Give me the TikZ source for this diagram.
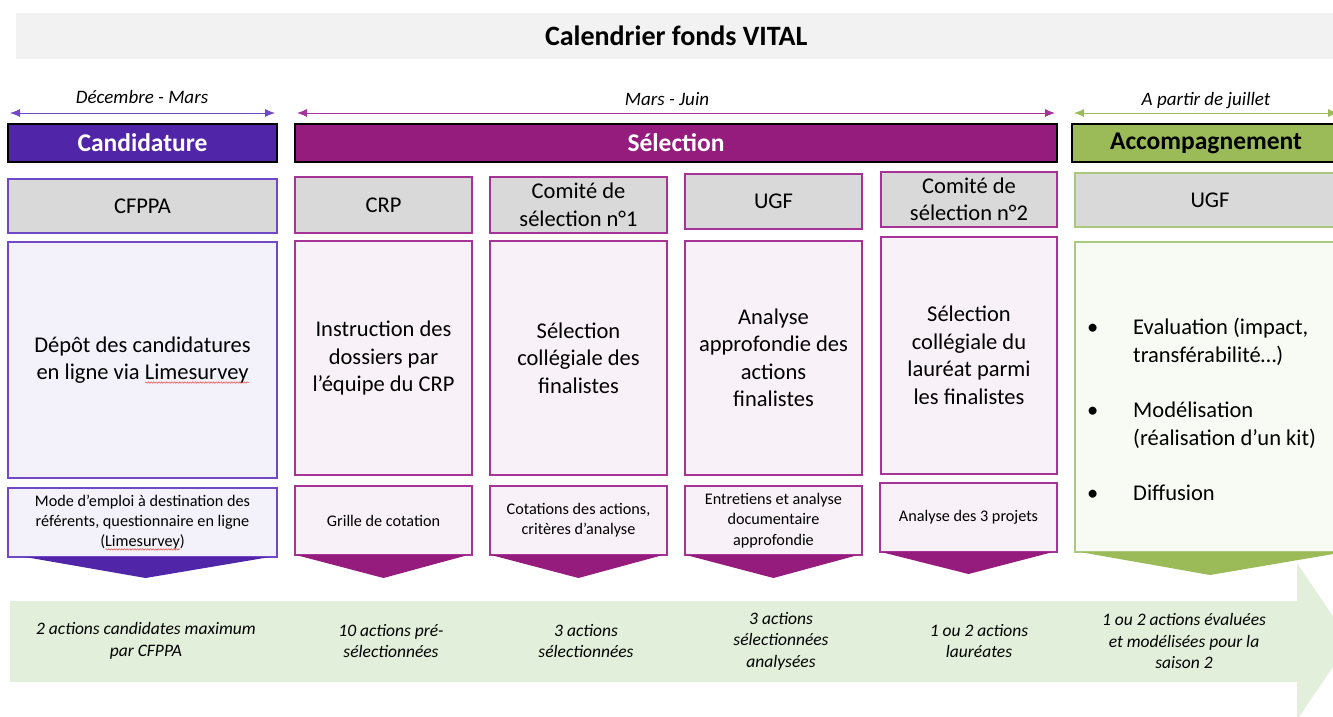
\documentclass[tikz,border=0pt]{standalone}
\usepackage{fontspec}
\setmainfont{Carlito}
\usetikzlibrary{arrows.meta,decorations.pathmorphing}

\definecolor{titlegray}{RGB}{242,242,242}
\definecolor{boxgray}{RGB}{217,217,217}
\definecolor{candpurple}{RGB}{81,37,168}
\definecolor{candline}{RGB}{112,72,200}
\definecolor{candfill}{RGB}{243,242,250}
\definecolor{selmagenta}{RGB}{149,27,125}
\definecolor{selline}{RGB}{165,52,150}
\definecolor{selfill}{RGB}{249,241,248}
\definecolor{accgreen}{RGB}{155,187,89}
\definecolor{accline}{RGB}{169,201,126}
\definecolor{accfill}{RGB}{248,250,244}
\definecolor{bandgreen}{RGB}{226,239,218}
\definecolor{wavered}{RGB}{235,90,90}

% fonts
\newcommand{\titlefont}{\fontsize{28}{34}\selectfont\bfseries}
\newcommand{\phasefont}{\fontsize{25.5}{30}\selectfont\bfseries}
\newcommand{\periodfont}{\fontsize{19}{22}\selectfont\itshape}
\newcommand{\boxfont}{\fontsize{22.5}{27.5}\selectfont}
\newcommand{\toolfont}{\fontsize{16.2}{20.2}\selectfont}
\newcommand{\resultfont}{\fontsize{17.5}{21.5}\selectfont\itshape}

% red wavy underline under a word
\newsavebox{\wavebox}
\newcommand{\spellwave}[1]{\sbox{\wavebox}{#1}%
  \rlap{\tikz[baseline=0pt]\draw[wavered, fill=none, line width=0.6pt, decorate,
    decoration={snake, amplitude=0.7pt, segment length=2.6pt}]
    (0pt,-3pt) -- (\wd\wavebox,-3pt);}%
  \usebox{\wavebox}}

\tikzset{
  phasebar/.style={draw=black, line width=1.5pt, font=\phasefont, minimum height=38,
    inner sep=0pt, outer sep=0pt, anchor=north west},
  actor/.style={draw, line width=1.2pt, fill=boxgray, font=\boxfont, align=center,
    inner sep=0pt, outer sep=0pt, anchor=north west},
  task/.style={draw, line width=1.2pt, font=\boxfont, align=center,
    inner sep=0pt, outer sep=0pt, anchor=north west},
  tool/.style={draw, line width=1.2pt, font=\toolfont, align=center, minimum height=69,
    inner sep=0pt, outer sep=0pt, anchor=north west},
  result/.style={font=\resultfont, align=center, inner sep=0pt},
  period/.style={font=\periodfont, inner sep=0pt},
  periodspan/.style={line width=0.8pt, {Latex[length=10pt,width=8pt]}-{Latex[length=10pt,width=8pt]},
    shorten <=2pt, shorten >=2pt},
}

\begin{document}
\begin{tikzpicture}[x=1pt,y=-1pt]
  \useasboundingbox (0,0) rectangle (1333,716);
  \clip (0,0) rectangle (1333,716);

  % results band
  \fill[bandgreen] (10,601) -- (1297,601) -- (1297,563) -- (1350,641.5)
    -- (1297,720) -- (1297,682) -- (10,682) -- cycle;

  \node[fill=titlegray, font=\titlefont, minimum width=1320, minimum height=46,
    inner sep=0pt, anchor=north west] (title) at (16,13) {Calendrier fonds VITAL};

  % phases
  \node[phasebar, fill=candpurple, text=white, minimum width=269] (cand) at (8,124) {Candidature};
  \node[phasebar, fill=selmagenta, text=white, minimum width=762] (sel) at (295,124) {Sélection};
  \node[phasebar, fill=accgreen, text=black, minimum width=268] (acc) at (1072,124) {Accompagnement};

  \draw[periodspan, candline] ([yshift=11pt]cand.north west) -- ([yshift=11pt]cand.north east);
  \draw[periodspan, selline] ([yshift=11pt]sel.north west) -- ([yshift=11pt]sel.north east);
  \draw[periodspan, accgreen] ([yshift=11pt]acc.north west) -- ([yshift=11pt]acc.north east);
  \node[period] (candtime) at (142,97) {Décembre - Mars};
  \node[period] (seltime) at (667,99) {Mars - Juin};
  \node[period] (acctime) at (1206,101) {A partir de juillet};

  % who
  \node[actor, draw=candline, minimum width=269, minimum height=54] (who1) at (8,179) {CFPPA};
  \node[actor, draw=selline, minimum width=177, minimum height=56] (who2) at (295,177) {CRP};
  \node[actor, draw=selline, minimum width=177, minimum height=56] (who3) at (490,177) {Comité de\\sélection n°1};
  \node[actor, draw=selline, minimum width=177, minimum height=55] (who4) at (685,174) {UGF};
  \node[actor, draw=selline, minimum width=176, minimum height=55] (who5) at (881,172) {Comité de\\sélection n°2};
  \node[actor, draw=accline, minimum width=270, minimum height=54] (who6) at (1075,173) {UGF};

  % what
  \node[task, draw=candline, fill=candfill, minimum width=269, minimum height=236] (task1) at (8,242)
    {Dépôt des candidatures\\en ligne via \spellwave{Limesurvey}};
  \node[task, draw=selline, fill=selfill, minimum width=177, minimum height=234] (task2) at (295,241)
    {Instruction des\\dossiers par\\l’équipe du CRP};
  \node[task, draw=selline, fill=selfill, minimum width=177, minimum height=234] (task3) at (490,241)
    {Sélection\\collégiale des\\finalistes};
  \node[task, draw=selline, fill=selfill, minimum width=177, minimum height=234] (task4) at (685,241)
    {Analyse\\approfondie des\\actions\\finalistes};
  \node[task, draw=selline, fill=selfill, minimum width=176, minimum height=237] (task5) at (881,237)
    {Sélection\\collégiale du\\lauréat parmi\\les finalistes};
  \node[task, draw=accline, fill=accfill, minimum width=270, minimum height=310] (task6) at (1075,242) {};
  \node[font=\boxfont, inner sep=0pt, anchor=west] (acclist) at (1087,412) {%
    \begin{tabular}{@{}p{46pt}@{}l@{}}
      \textbullet & Evaluation (impact,\\
                  & transférabilité…)\\[28pt]
      \textbullet & Modélisation\\
                  & (réalisation d’un kit)\\[28pt]
      \textbullet & Diffusion
    \end{tabular}};

  % tools
  \node[tool, draw=candline, fill=candfill, minimum width=269] (tool1) at (8,488)
    {Mode d’emploi à destination des\\référents, questionnaire en ligne\\(\spellwave{Limesurvey})};
  \node[tool, draw=selline, fill=selfill, minimum width=177] (tool2) at (295,486) {Grille de cotation};
  \node[tool, draw=selline, fill=selfill, minimum width=177] (tool3) at (490,486)
    {Cotations des actions,\\critères d’analyse};
  \node[tool, draw=selline, fill=selfill, minimum width=177] (tool4) at (685,486)
    {Entretiens et analyse\\documentaire\\approfondie};
  \node[tool, draw=selline, fill=selfill, minimum width=177] (tool5) at (880,483) {Analyse des 3 projets};

  % chevrons
  \fill[candpurple] ([xshift=17pt]tool1.south west) -- ([xshift=-7pt]tool1.south east)
    -- ([xshift=3pt,yshift=-21pt]tool1.south) -- cycle;
  \fill[selmagenta] ([xshift=1pt]tool2.south west) -- ([xshift=-4pt]tool2.south east)
    -- ([yshift=-23pt]tool2.south) -- cycle;
  \fill[selmagenta] ([xshift=1pt]tool3.south west) -- ([xshift=-4pt]tool3.south east)
    -- ([yshift=-23pt]tool3.south) -- cycle;
  \fill[selmagenta] ([xshift=1pt]tool4.south west) -- ([xshift=-4pt]tool4.south east)
    -- ([yshift=-23pt]tool4.south) -- cycle;
  \fill[selmagenta] ([xshift=1pt]tool5.south west) -- ([xshift=-4pt]tool5.south east)
    -- ([yshift=-22pt]tool5.south) -- cycle;
  \fill[accgreen] ([xshift=5pt]task6.south west) -- (task6.south east)
    -- ([yshift=-23pt]task6.south) -- cycle;

  % results
  \node[result] (res1) at (146,641) {2 actions candidates maximum\\par CFPPA};
  \node[result] (res2) at (391,641) {10 actions pré-\\sélectionnées};
  \node[result] (res3) at (586,641) {3 actions\\sélectionnées};
  \node[result] (res4) at (781,641) {3 actions\\sélectionnées\\analysées};
  \node[result] (res5) at (979,641) {1 ou 2 actions\\lauréates};
  \node[result] (res6) at (1184,641) {1 ou 2 actions évaluées\\et modélisées pour la\\saison 2};
\end{tikzpicture}
\end{document}
